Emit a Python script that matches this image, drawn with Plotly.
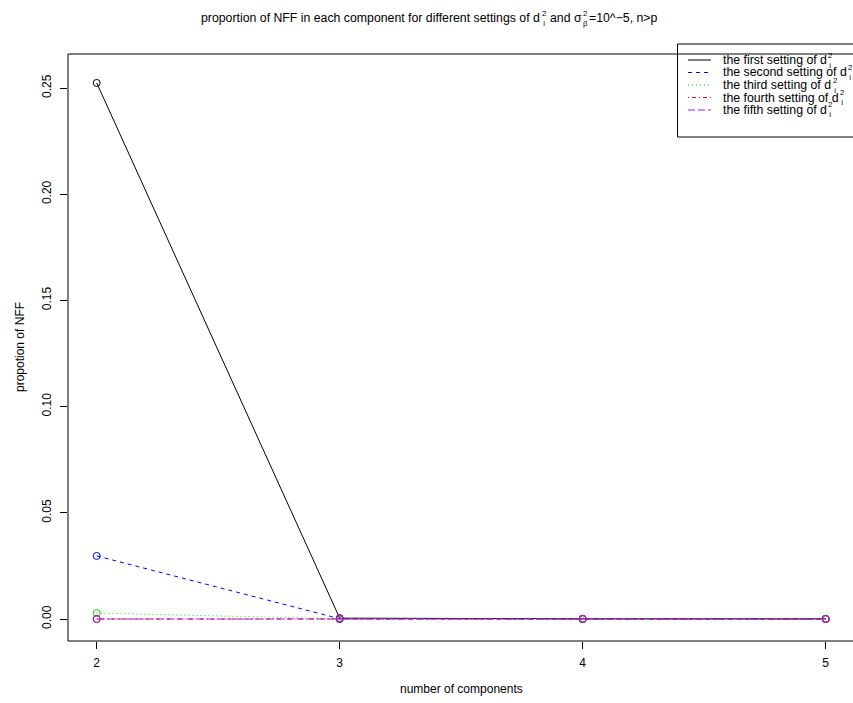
import plotly.graph_objects as go

# ---------------- data ----------------
components = [2, 3, 4, 5]
setting1 = [0.2524, 0.0004, 0.0001, 0.0001]
setting2 = [0.0297, 0.0001, 0.0, 0.0]
setting3 = [0.0028, 0.0001, 0.0, 0.0]
setting4 = [0.0, 0.0, 0.0, 0.0]
setting5 = [0.0, 0.0, 0.0, 0.0]
series = [setting1, setting2, setting3, setting4, setting5]
legend_names = ["the first setting of d", "the second setting of d", "the third setting of d",
                "the fourth setting of d", "the fifth setting of d"]
x_ticks = [2, 3, 4, 5]
y_ticks = [0.0, 0.05, 0.10, 0.15, 0.20, 0.25]
y_ticklabels = ["0.00", "0.05", "0.10", "0.15", "0.20", "0.25"]

colors = ["#000000", "#0000FF", "#00DD00", "#FF0000", "#A020F0"]
dashes = ["solid", "4px,4px", "1px,3px", "1px,3px,4px,3px", "7px,3px"]

FONT = "Liberation Sans, Arial, sans-serif"
W, H = 853, 703
ML, MR, MT, MB = 68, 0, 54, 62
PW, PH = W - ML - MR, H - MT - MB


def xp(px):
    return (px - ML) / PW


def yp(py):
    return (H - MB - py) / PH


# Arial / Liberation Sans advance widths (per 1000 em)
AW = {' ': 278, 'a': 556, 'b': 556, 'c': 500, 'd': 556, 'e': 556, 'f': 278, 'g': 556,
      'h': 556, 'i': 222, 'm': 833, 'n': 556, 'o': 556, 'p': 556, 'r': 333, 's': 500,
      't': 278, 'u': 556, 'N': 722, 'F': 611, '=': 584, '0': 556, '1': 556, '5': 556,
      '^': 469, '−': 584, ',': 278, '>': 584, 'σ': 617}


def tw(s, size):
    return sum(AW.get(c, 556) for c in s) * size / 1000.0


def ann(px, py, text, size, anchor="left", angle=0):
    return dict(x=xp(px), y=yp(py), xref="paper", yref="paper", text=text,
                xanchor=anchor, yanchor="middle", showarrow=False, textangle=angle,
                borderpad=0, font=dict(size=size, color="black", family=FONT))


fig = go.Figure()
for vals, col, dsh in zip(series, colors, dashes):
    fig.add_trace(go.Scatter(
        x=components, y=vals, mode="lines+markers",
        line=dict(color=col, width=1, dash=dsh),
        marker=dict(symbol="circle-open", size=7, color=col, line=dict(width=1, color=col)),
        showlegend=False, cliponaxis=False, hoverinfo="x+y"))

annotations = []
shapes = []

# ---- title (stacked scripts as one two-line annotation) ----
TS = 12.3
SS = 7.8
ty = 18.5
x0 = 200
t1 = "proportion of NFF in each component for different settings of d"
annotations.append(ann(x0, ty, t1, TS))
xe = x0 + tw(t1, TS) + 1.5
annotations.append(ann(xe, ty, "2<br>i", SS))
xe += tw("2", SS) + 1
annotations.append(ann(xe + tw(" ", TS), ty, "and σ", TS))
xe += tw(" and σ", TS) + 1.5
annotations.append(ann(xe, ty, "2<br>β", SS))
xe += tw("2", SS) + 1.5
annotations.append(ann(xe, ty, "=10^−5, n>p", TS))

# ---- axis titles ----
annotations.append(ann(461, 689, "number of components", 12, anchor="center"))
annotations.append(ann(20, 347, "propotion of NFF", 12, anchor="center", angle=-90))

# ---- frame (left, bottom, top; right edge lies outside the window) ----
for (a, b, c, d) in [(0, 0, 0, 1), (0, 0, 1.01, 0), (0, 1, 1.01, 1)]:
    shapes.append(dict(type="line", xref="paper", yref="paper", x0=a, y0=b, x1=c, y1=d,
                       line=dict(color="black", width=1), layer="above"))

# ---- legend (drawn manually, on a pixel-space overlay axis pair) ----
LX0, LY0, LY1 = 677.5, 44, 137
shapes.append(dict(type="rect", xref="paper", yref="paper", x0=xp(LX0), x1=xp(870),
                   y0=yp(LY1), y1=yp(LY0), line=dict(color="black", width=1),
                   fillcolor="rgba(0,0,0,0)", layer="above"))
for k, (name, col, dsh) in enumerate(zip(legend_names, colors, dashes)):
    ry = 60 + 12.5 * k
    fig.add_trace(go.Scatter(x=[688, 711], y=[ry, ry], xaxis="x2", yaxis="y2", mode="lines",
                             line=dict(color=col, width=1, dash=dsh), showlegend=False,
                             hoverinfo="skip", cliponaxis=False))
    annotations.append(ann(722, ry, name, TS))
    de = 722 + tw(name, TS) + 1.5
    annotations.append(ann(de, ry, "2<br>i", SS))

fig.update_layout(
    width=W, height=H,
    margin=dict(l=ML, r=MR, t=MT, b=MB, pad=0),
    paper_bgcolor="white", plot_bgcolor="white",
    font=dict(family=FONT, size=12, color="black"),
    annotations=annotations, shapes=shapes,
    xaxis=dict(range=[1.8819, 1.8819 + PW / 243.0], tickvals=x_ticks, ticktext=[str(v) for v in x_ticks],
               ticks="outside", ticklen=7, tickwidth=1, tickcolor="black", showgrid=False,
               zeroline=False, showline=False, tickfont=dict(size=12, color="black", family=FONT),
               ticklabelstandoff=4),
    yaxis=dict(range=[-0.01036, 0.26601], tickvals=y_ticks, ticktext=y_ticklabels, tickangle=-90,
               ticks="outside", ticklen=7, tickwidth=1, tickcolor="black", showgrid=False,
               zeroline=False, showline=False, tickfont=dict(size=12, color="black", family=FONT),
               ticklabelstandoff=4),
    xaxis2=dict(overlaying="x", anchor="y2", range=[ML, W], visible=False),
    yaxis2=dict(overlaying="y", anchor="x2", range=[H - MB, MT], visible=False),
)

fig.write_html("out.html")
